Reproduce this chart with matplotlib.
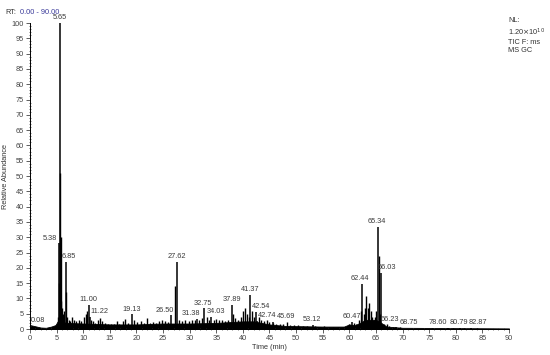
import numpy as np
import matplotlib
matplotlib.use("Agg")
import matplotlib.pyplot as plt
from matplotlib.ticker import MultipleLocator

plt.rcParams["font.family"] = ["Liberation Sans", "DejaVu Sans"]

# labelled peaks: retention time (min), relative abundance (%)
peak_t = [0.08, 5.38, 5.65, 6.85, 11.00, 11.22, 19.13, 26.50, 27.62, 31.38,
          32.75, 34.03, 37.89, 41.37, 42.54, 42.74, 45.69, 53.12, 60.47,
          62.44, 65.34, 66.03, 66.23, 68.75, 78.60, 80.79, 82.87]
peak_h = [1.2, 28, 100, 22, 8, 4, 4.8, 4.5, 22, 3.4,
          6.8, 4, 7.8, 11.1, 5.6, 2.6, 2.3, 1.3, 2.3,
          14.7, 33.3, 18.3, 1.3, 0.5, 0.3, 0.3, 0.3]
peak_labels = ["0.08", "5.38", "5.65", "6.85", "11.00", "11.22", "19.13",
               "26.50", "27.62", "31.38", "32.75", "34.03", "37.89", "41.37",
               "42.54", "42.74", "45.69", "53.12", "60.47", "62.44", "65.34",
               "66.03", "66.23", "68.75", "78.60", "80.79", "82.87"]
# where the software put each label (min)
label_x = [1.5, 3.8, 5.65, 7.3, 10.9, 13.0, 19.2, 25.4, 27.6, 30.3,
           32.5, 35.0, 38.0, 41.4, 43.4, 44.5, 48.1, 53.0, 60.5,
           62.0, 65.2, 67.1, 67.7, 71.1, 76.7, 80.5, 84.2]

# unlabelled peaks / noise
minor_t = [5.1, 5.3, 5.45, 5.55, 5.75, 5.9, 6.05, 6.25, 6.45, 6.7, 7.0, 7.3,
           7.6, 7.9, 8.3, 8.7, 9.2, 9.6, 10.2, 10.5, 10.8, 11.5, 11.9, 12.3,
           12.8, 13.2, 13.6, 14.1, 14.7, 15.2, 15.8, 16.3, 16.8, 17.4, 17.9,
           18.4, 19.6, 20.2, 20.8, 21.4, 22.0, 22.6, 23.1, 23.7, 24.3, 24.8,
           25.4, 26.0, 27.3, 28.0, 28.6, 29.2, 29.8, 30.4, 31.0, 31.8, 32.3,
           33.2, 33.6, 34.5, 35.0, 35.5, 36.1, 36.6, 37.2, 38.2, 38.6, 39.1,
           39.6, 40.0, 40.4, 40.8, 41.1, 41.7, 42.1, 43.1, 43.5, 44.0, 44.5,
           45.0, 45.7, 46.3, 47.0, 47.6, 48.2, 48.9, 49.6, 50.4, 51.3, 52.1,
           53.6, 54.5, 55.3, 56.2, 57.0, 57.9, 58.8, 59.5, 60.0, 60.8, 61.3,
           61.8, 62.2, 62.7, 63.0, 63.2, 63.5, 63.7, 64.0, 64.3, 64.6, 64.9,
           65.1, 65.5, 65.8, 66.5, 67.0, 67.5, 68.2, 69.5, 71.0, 73.0, 75.5,
           77.0, 79.5, 81.5, 84.0]
minor_h = [1.5, 4, 15, 51, 30, 9, 7, 5, 6, 12, 4, 3,
           2.5, 4, 3, 2.5, 3, 2.5, 4, 5, 6, 3, 2.5, 2,
           3, 3.5, 2.5, 2, 1.8, 1.5, 1.8, 2.5, 1.8, 2.5, 3.2,
           2, 3, 2.2, 2.5, 2, 3.5, 2, 2.2, 2, 2.5, 3,
           2.5, 2.3, 14, 3, 2.5, 3, 2.5, 2.8, 3, 3, 3.5,
           4, 3, 3, 3.2, 2.8, 3, 2.5, 3, 5, 3.5, 3,
           4, 6, 7, 5, 4, 6, 4, 4, 3, 2.5, 3,
           2.2, 2, 1.8, 1.5, 1.5, 2.3, 1.3, 1.2, 1.2, 1, 1,
           1, 0.8, 1, 0.8, 0.7, 0.8, 0.7, 0.8, 1.8, 2, 1.5,
           3, 6, 5, 7, 10.8, 7, 8.5, 6, 4, 3, 4,
           6, 24, 5, 1.5, 1.5, 1, 0.8, 0.5, 0.4, 0.3, 0.3,
           0.3, 0.3, 0.3, 0.3]

# baseline envelope
base_t = [0, 1, 2, 3, 4, 4.8, 5.2, 7, 10, 15, 20, 25, 30, 35, 40, 42, 45,
          48, 55, 59, 60, 61, 62, 63, 64, 65, 66, 67, 70, 80, 90]
base_h = [1.3, 0.9, 0.5, 0.4, 0.8, 1.3, 2.5, 2, 1.8, 1.5, 1.5, 1.8, 1.8, 2,
          2.5, 2.5, 1.5, 1, 0.8, 0.8, 1.5, 1.2, 2, 3, 3, 3, 2, 0.8, 0.4,
          0.3, 0.2]

fig = plt.figure(figsize=(5.5, 3.55), dpi=100)
ax = fig.add_axes([0.0545, 0.0732, 0.8709, 0.862])

ax.fill_between(base_t, 0, base_h, color="black", lw=0.6)
ax.vlines(minor_t, 0, minor_h, color="black", lw=1.0)
ax.vlines(peak_t, 0, peak_h, color="black", lw=1.1)

for lx, h, s in zip(label_x, peak_h, peak_labels):
    ax.annotate(s, xy=(lx, h), xytext=(0, 1.2), textcoords="offset points",
                ha="center", va="bottom", fontsize=5.3, color="#3a3a3a",
                annotation_clip=False)

ax.set_xlim(0, 90)
ax.set_ylim(0, 100)
ax.xaxis.set_major_locator(MultipleLocator(5))
ax.xaxis.set_minor_locator(MultipleLocator(1))
ax.yaxis.set_major_locator(MultipleLocator(5))
ax.yaxis.set_minor_locator(MultipleLocator(1))
ax.tick_params(which="major", direction="out", length=3, width=0.6,
               labelsize=5.3, colors="#444444", pad=1.5)
ax.tick_params(which="minor", direction="inout", length=2, width=0.5,
               colors="#444444")
for side in ["top", "right"]:
    ax.spines[side].set_visible(False)
for side in ["left", "bottom"]:
    ax.spines[side].set_linewidth(0.7)

ax.set_xlabel("Time (min)", fontsize=5.3, color="#333333", labelpad=1)
ax.set_ylabel("Relative Abundance", fontsize=5.3, color="#333333", labelpad=2)

fig.text(0.009, 0.966, "RT:", fontsize=5.3, color="#333333", va="center")
fig.text(0.037, 0.966, "0.00 - 90.00", fontsize=5.3, color="#3a3a9a",
         va="center")
fig.text(0.924, 0.952, "NL:\n1.20$\\times$10$^{10}$\nTIC F: ms\nMS GC",
         fontsize=5.3, color="#333333", va="top", linespacing=1.25)

fig.savefig("out.png", dpi=100)
